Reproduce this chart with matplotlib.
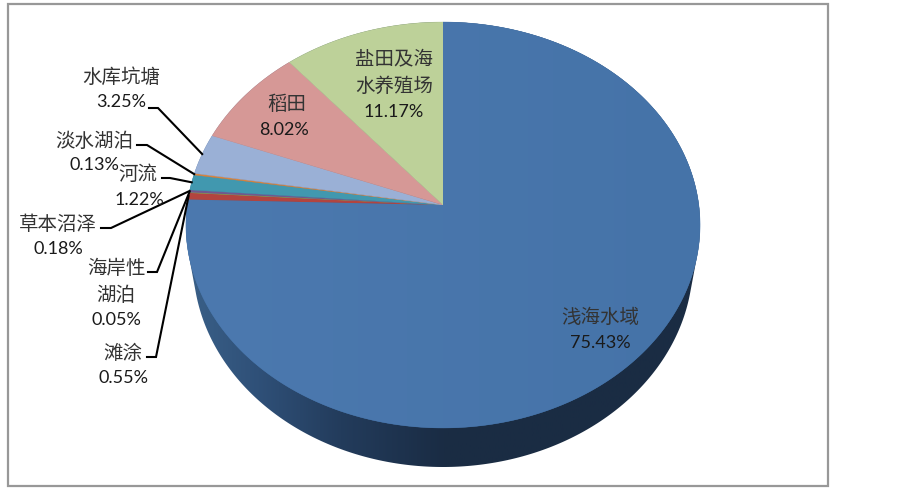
import numpy as np
import matplotlib
matplotlib.use("Agg")
import matplotlib.pyplot as plt
from matplotlib.patches import Polygon, Rectangle
from matplotlib.colors import LinearSegmentedColormap

plt.rcParams['font.family'] = ['Lato', 'Noto Sans CJK SC', 'DejaVu Sans']

names = ['浅海水域', '滩涂', '海岸性湖泊', '草本沼泽', '河流', '淡水湖泊', '水库坑塘', '稻田', '盐田及海水养殖场']
values = [75.43, 0.55, 0.05, 0.18, 1.22, 0.13, 3.25, 8.02, 11.17]
colors = ['#4573A8', '#B2443F', '#89A54E', '#71588F', '#4198AF', '#DB843D', '#9AB0D6', '#D69896', '#BDD199']

label_lines = [
    [('浅海水域', 600, 317), ('75.43%', 600, 343)],
    [('滩涂', 123, 353), ('0.55%', 124, 378)],
    [('海岸性', 116, 268), ('湖泊', 116, 295), ('0.05%', 116, 320)],
    [('草本沼泽', 58, 224), ('0.18%', 58, 249)],
    [('河流', 138, 174), ('1.22%', 139, 200)],
    [('淡水湖泊', 94, 141), ('0.13%', 94, 165)],
    [('水库坑塘', 121, 77), ('3.25%', 121, 102)],
    [('稻田', 287, 104), ('8.02%', 284, 130)],
    [('盐田及海', 394, 58), ('水养殖场', 394, 86), ('11.17%', 394, 112)],
]
leaders = {1: (147, 156, 357), 2: (148, 157, 272), 3: (101, 111, 228),
           4: (162, 170, 178), 5: (137, 147, 145), 6: (149, 158, 108)}

CX, CY, K, A, B = 443, 205, 0.0985, 201, 255.8


def proj(frac, r=1.0):
    """Clockwise-from-top pie fraction to perspective-projected pixels."""
    t = 2 * np.pi * np.asarray(frac)
    u, v = r * np.sin(t), r * np.cos(t)
    d = 1 + K * v
    return CX + B * u / d, CY - A * v / d


def convex_hull(pts):
    pts = sorted(map(tuple, pts))
    def half(seq):
        out = []
        for p in seq:
            while len(out) > 1 and ((out[-1][0] - out[-2][0]) * (p[1] - out[-2][1])
                                    - (out[-1][1] - out[-2][1]) * (p[0] - out[-2][0])) <= 0:
                out.pop()
            out.append(p)
        return out[:-1]
    return np.array(half(pts) + half(pts[::-1]))


fig = plt.figure(figsize=(9.03, 4.88), dpi=100)
ax = fig.add_axes([0, 0, 1, 1])

ax.add_patch(Rectangle((8, 3.5), 820, 482, fc='white', ec='#989898', lw=1.6, zorder=0))

# side wall with horizontal gradient, clipped to the hull of top rim and bottom rim
ts = np.linspace(0, 2 * np.pi, 500)
top_x, top_y = proj(ts / (2 * np.pi))
low_x = 443 + 250 * np.cos(ts)
low_y = 262 + 205 * np.sin(ts)
hull = convex_hull(np.vstack([np.c_[top_x, top_y], np.c_[low_x, low_y]]))
side_cmap = LinearSegmentedColormap.from_list(
    'side', [(0, '#3A6088'), (0.14, '#2F5078'), (0.3, '#233C5C'), (0.5, '#1A2C44'), (1, '#1A2C43')])
grad = np.linspace(0, 1, 256)[None, :]
im = ax.imshow(grad, extent=(186, 700, 488, 0), cmap=side_cmap, aspect='auto', zorder=1)
im.set_clip_path(Polygon(hull, closed=True, transform=ax.transData))

ax.set_xlim(0, 903)
ax.set_ylim(488, 0)
ax.axis('off')

# top faces
edges = np.concatenate([[0], np.cumsum(values)]) / sum(values)
for i, col in enumerate(colors):
    f = np.linspace(edges[i], edges[i + 1], max(3, int(values[i] * 8)))
    x, y = proj(f)
    pts = np.vstack([[CX, CY], np.c_[x, y]])
    poly = Polygon(pts, closed=True, fc=col, ec=col, lw=0.3, zorder=2)
    ax.add_patch(poly)
    if i == 0:  # the big slice is slightly lighter on its left
        top_cmap = LinearSegmentedColormap.from_list('top', ['#4C79AF', col])
        im2 = ax.imshow(grad, extent=(186, 700, 488, 0), cmap=top_cmap, aspect='auto', zorder=2.1)
        im2.set_clip_path(Polygon(pts, closed=True, transform=ax.transData))
ax.set_xlim(0, 903)
ax.set_ylim(488, 0)

# labels
for i, lines in enumerate(label_lines):
    for txt, x, y in lines:
        is_cjk = ord(txt[0]) > 0x2E80
        ax.text(x, y, txt, ha='center', va='center', fontsize=14 if is_cjk else 13,
                color='#333333' if is_cjk else '#1a1a1a', zorder=4)

# leader lines run to the rim at each slice's middle
for i, (x0, x1, y) in leaders.items():
    ex, ey = proj((edges[i] + edges[i + 1]) / 2)
    ax.plot([x0, x1, ex], [y, y, ey], color='black', lw=1.5, zorder=3, solid_joinstyle='miter')

fig.savefig('out.png', dpi=100)
